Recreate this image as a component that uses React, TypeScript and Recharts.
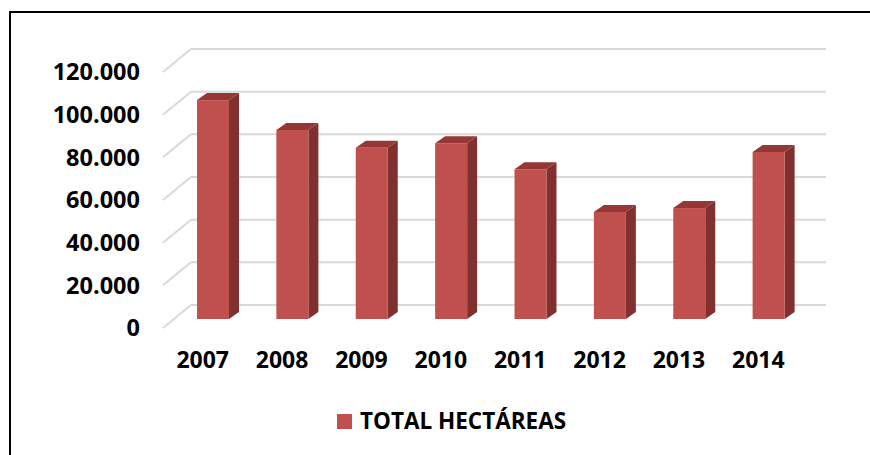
import React from 'react'
import { BarChart, Bar, XAxis, YAxis, CartesianGrid } from 'recharts'

// años y superficie total (ha)
const years = ['2007', '2008', '2009', '2010', '2011', '2012', '2013', '2014']
const hectares = [102600, 88600, 80300, 82400, 70200, 50200, 52000, 78300]
const yTicks = [0, 20000, 40000, 60000, 80000, 100000, 120000]
const seriesName = 'TOTAL HECTÁREAS'

const FRONT = '#c0504d'
const SIDE = '#80312f'
const TOP = '#953735'
const GRID = '#d9d9d9'
const FONT = '"Open Sans", sans-serif'

// no page margin / scrollbar, so the chart can sit at page coordinates
if (typeof document !== 'undefined') {
  document.documentElement.style.overflow = 'hidden'
  document.body.style.margin = '0'
  document.body.style.overflow = 'hidden'
}

const data = years.map((year, i) => ({ year, value: hectares[i] }))

// thousands with a dot, as in the original ("120.000")
const fmt = (v: number) => String(v).replace(/\B(?=(\d{3})+(?!\d))/g, '.')

// fake 3D: front face pushed back into the floor, plus side and top faces
const Bar3D = (props: any) => {
  const { x, y, width, height } = props
  if (height == null || width == null) return null
  const ox = 10
  const oy = -9
  const dx = 10
  const dy = 7
  const fx = x + ox
  const fy = y + oy
  return (
    <g>
      <polygon
        points={`${fx + width},${fy} ${fx + width + dx},${fy - dy} ${fx + width + dx},${fy + height - dy} ${fx + width},${fy + height}`}
        fill={SIDE}
      />
      <polygon
        points={`${fx},${fy} ${fx + dx},${fy - dy} ${fx + width + dx},${fy - dy} ${fx + width},${fy}`}
        fill={TOP}
      />
      <rect x={fx} y={fy} width={width} height={height} fill={FRONT} />
    </g>
  )
}

// gridline on the back wall with the diagonal on the side wall
const GridLine3D = (props: any) => {
  const { x1, x2, y1, key } = props
  const gx = 28
  const gy = 23
  return (
    <path
      key={key}
      d={`M${x1},${y1} L${x1 + gx},${y1 - gy} L${x2 + gx},${y1 - gy}`}
      fill="none"
      stroke={GRID}
      strokeWidth={2}
    />
  )
}

export default function App() {
  return (
    <div style={{ position: 'relative', width: 870, height: 455, fontFamily: FONT, overflow: 'hidden' }}>
      {/* chart frame: only top and left edges are visible in the original */}
      <div style={{ position: 'absolute', left: 9, top: 11, width: 861, height: 2, background: '#000' }} />
      <div style={{ position: 'absolute', left: 9, top: 11, width: 2, height: 444, background: '#000' }} />
      <div style={{ position: 'absolute', left: 0, top: 0 }}>
        <BarChart
          width={870}
          height={455}
          data={data}
          margin={{ top: 72, right: 72, bottom: 97, left: 0 }}
          barSize={32}
        >
          <CartesianGrid vertical={false} horizontal={GridLine3D} />
          <XAxis
            dataKey="year"
            axisLine={false}
            tickLine={false}
            tickSize={0}
            tickMargin={24}
            height={30}
            tick={{ fill: '#000', fontSize: 23, fontWeight: 700, fontFamily: FONT }}
          />
          <YAxis
            domain={[0, 120000]}
            ticks={yTicks}
            tickFormatter={fmt}
            axisLine={false}
            tickLine={false}
            tickSize={0}
            tickMargin={23}
            width={163}
            tick={{ fill: '#000', fontSize: 23.5, fontWeight: 700, fontFamily: FONT }}
          />
          <Bar dataKey="value" name={seriesName} fill={FRONT} shape={Bar3D} isAnimationActive={false} />
        </BarChart>
      </div>
      <div
        style={{
          position: 'absolute',
          left: 337,
          top: 406,
          display: 'flex',
          alignItems: 'center',
          fontSize: 22.5,
          fontWeight: 700,
          color: '#000',
          lineHeight: '30px',
        }}
      >
        <span style={{ display: 'inline-block', width: 15, height: 15, background: FRONT, marginRight: 8 }} />
        <span>{seriesName}</span>
      </div>
    </div>
  )
}
